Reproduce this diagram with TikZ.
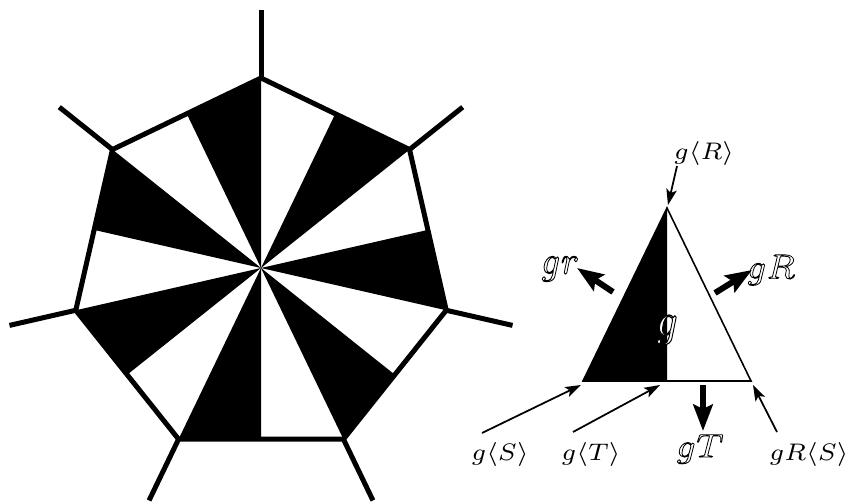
\documentclass[tikz,border=0pt]{standalone}
\usetikzlibrary{arrows.meta,calc}
\newcommand{\outl}[1]{{\color{white}\special{pdf:literal direct 2 Tr 0.17 w 0 G}#1\special{pdf:literal direct 0 Tr}}}
\newcommand{\smlbl}[1]{\scalebox{2.05}[1.95]{$\scriptstyle #1$}}
\newcommand{\biglbl}[3]{\scalebox{#1}[#2]{\outl{$\scriptstyle #3$}}}
\tikzset{
  bold/.style={line width=0.1cm},
  thinarr/.style={line width=1pt,-{Stealth[length=9pt,width=6pt,inset=2pt]}},
  thickarr/.style={line width=3.4pt,-{Stealth[length=15pt,width=11pt,inset=2.5pt]}},
  lbl/.style={inner sep=0pt},
}
\begin{document}
\begin{tikzpicture}[x=0.02cm,y=-0.02cm]
\useasboundingbox (0,0) rectangle (849,503);
\def\R{190}
\coordinate (C) at (261,268);
\foreach \k in {0,...,6}{
  \pgfmathsetmacro\a{90-\k*360/7}
  \coordinate (V\k) at ({261+\R*cos(\a)},{268-\R*sin(\a)});
  \coordinate (S\k) at ({261+258*cos(\a)},{268-258*sin(\a)});
}
\foreach \k in {0,...,6}{
  \pgfmathsetmacro\b{90-(\k+1)*360/7}
  \pgfmathsetmacro\m{90-(\k+0.5)*360/7}
  \fill (C) -- ({261+\R*cos(\m)*cos(180/7)},{268-\R*sin(\m)*cos(180/7)})
        -- ({261+\R*cos(\b)},{268-\R*sin(\b)}) -- cycle;
}
\draw[bold] (V0) -- (V1) -- (V2) -- (V3) -- (V4) -- (V5) -- (V6) -- cycle;
\foreach \k in {0,...,6}{ \draw[bold] (V\k) -- (S\k); }

% triangle
\coordinate (T1) at (667,208);
\coordinate (T2) at (583,381);
\coordinate (T3) at (751,381);
\coordinate (Tm) at (667,381);
\fill (T1) -- (T2) -- (Tm) -- cycle;
\draw[line width=0.9pt] (T1) -- (T2) -- (T3) -- cycle;

% labels
\node[lbl] (lR) at (704,154) {\smlbl{g\langle R\rangle}};
\node[lbl] (lS) at (500,455) {\smlbl{g\langle S\rangle}};
\node[lbl] (lT) at (591,455) {\smlbl{g\langle T\rangle}};
\node[lbl] (lRS) at (809,455) {\smlbl{gR\langle S\rangle}};
\node[lbl] (ngr) at (560,269) {\biglbl{2.7}{3.2}{gr}};
\node[lbl] (ngR) at (771,270) {\biglbl{2.7}{2.8}{gR}};
\node[lbl] (ngT) at (700,449) {\biglbl{2.75}{2.7}{gT}};
\node[lbl] (ng) at (667,330) {\biglbl{3.1}{3.8}{g}};

% arrow endpoints
\coordinate (aR0) at (677,166);  \coordinate (aR1) at (668,205);
\coordinate (aS0) at (482,433);  \coordinate (aS1) at (581,385);
\coordinate (aT0) at (573,432);  \coordinate (aT1) at (660,385);
\coordinate (aRS0) at (777,432); \coordinate (aRS1) at (753,385);
\coordinate (br0) at (613,292);  \coordinate (br1) at (577,268);
\coordinate (bR0) at (715,293);  \coordinate (bR1) at (752,270);
\coordinate (bT0) at (703,385);  \coordinate (bT1) at (703,431);

\draw[thinarr] (aR0) -- (aR1);
\draw[thinarr] (aS0) -- (aS1);
\draw[thinarr] (aT0) -- (aT1);
\draw[thinarr] (aRS0) -- (aRS1);
\draw[thickarr] (br0) -- (br1);
\draw[thickarr] (bR0) -- (bR1);
\draw[thickarr] (bT0) -- (bT1);
\end{tikzpicture}
\end{document}
